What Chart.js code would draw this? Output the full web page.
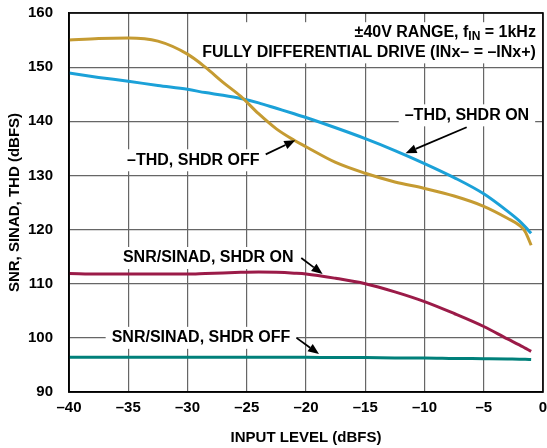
<!DOCTYPE html>
<html>
<head>
<meta charset="utf-8">
<script src="https://cdn.jsdelivr.net/npm/chart.js@4/dist/chart.umd.min.js"></script>
<style>
  html, body { margin: 0; padding: 0; background: #fff; }
</style>
</head>
<body>
<canvas id="myChart" width="547" height="448"></canvas>
<script>
// input level, dBFS
const inputLevel = [-40, -37.5, -35, -32.5, -30, -28.5, -27, -25.5, -24, -22.5, -21, -20,
  -17.5, -15, -12.5, -10, -7.5, -5, -3, -2, -1.5, -1];

const thdShdrOff = [155.0, 155.3, 155.4, 154.8, 152.4, 150.0, 147.2, 144.6, 141.4, 138.6, 136.5, 135.3,
  132.4, 130.4, 128.8, 127.6, 126.2, 124.3, 122.1, 120.8, 119.6, 117.1];
const thdShdrOn = [148.9, 148.1, 147.4, 146.6, 145.9, 145.3, 144.8, 144.2, 143.4, 142.4, 141.4, 140.7,
  138.8, 136.8, 134.6, 132.2, 129.6, 126.6, 123.4, 121.6, 120.5, 119.3];
const snrShdrOn = [111.9, 111.8, 111.8, 111.8, 111.8, 111.9, 112.0, 112.1, 112.15, 112.1, 111.95, 111.8,
  111.0, 110.0, 108.5, 106.7, 104.5, 102.1, 99.8, 98.7, 98.1, 97.5];
const snrShdrOff = [96.4, 96.4, 96.4, 96.4, 96.4, 96.4, 96.4, 96.4, 96.4, 96.4, 96.4, 96.4,
  96.35, 96.35, 96.3, 96.3, 96.2, 96.15, 96.1, 96.05, 96.05, 96.0];

// curve labels: text, left edge / middle (data units), arrow tail and head (data units)
const noteText = ['–THD, SHDR OFF', '–THD, SHDR ON', 'SNR/SINAD, SHDR ON', 'SNR/SINAD, SHDR OFF'];
const noteAt = [[-35.1, 132.8], [-11.67, 141.1], [-35.45, 114.75], [-36.4, 100.0]];
const arrowFrom = [[-23.4, 133.9], [-6.44, 138.9], [-20.4, 114.75], [-20.8, 100.0]];
const arrowTo = [[-20.9, 136.5], [-11.6, 134.1], [-18.6, 111.8], [-18.9, 97.0]];

// condition text, top right
const conditionLine1 = ['±40V RANGE, f', 'IN', ' = 1kHz'];
const conditionLine2 = 'FULLY DIFFERENTIAL DRIVE (INx– = –INx+)';

const FONT = '"Liberation Sans", Arial, Helvetica, sans-serif';

function toPoints(ys) {
  return ys.map((y, i) => ({ x: inputLevel[i], y: y }));
}

function series(label, ys, color) {
  return {
    label: label,
    data: toPoints(ys),
    borderColor: color,
    borderWidth: 3,
    pointRadius: 0,
    fill: false,
    cubicInterpolationMode: 'monotone'
  };
}

const notesPlugin = {
  id: 'notes',
  beforeDatasetsDraw(chart) {
    const { ctx, scales: { x, y } } = chart;
    const big = 'bold 16px ' + FONT;
    const small = 'bold 12px ' + FONT;
    ctx.save();
    ctx.font = big;

    // white boxes behind labels (hide grid)
    ctx.fillStyle = '#fff';
    ctx.fillRect(x.getPixelForValue(-28.5), y.getPixelForValue(158.3),
      x.getPixelForValue(0) - x.getPixelForValue(-28.5) - 1, y.getPixelForValue(150.7) - y.getPixelForValue(158.3));
    noteText.forEach((t, i) => {
      const px = x.getPixelForValue(noteAt[i][0]);
      const py = y.getPixelForValue(noteAt[i][1]);
      const w = ctx.measureText(t).width;
      ctx.fillRect(px - 6, py - 11, w + 12, 22);
    });

    ctx.fillStyle = '#000';
    ctx.textBaseline = 'middle';
    ctx.textAlign = 'left';
    noteText.forEach((t, i) => {
      ctx.fillText(t, x.getPixelForValue(noteAt[i][0]), y.getPixelForValue(noteAt[i][1]));
    });

    // first condition line with subscript
    const right = x.getPixelForValue(-0.6);
    const y1 = y.getPixelForValue(156.4);
    const wa = ctx.measureText(conditionLine1[0]).width;
    const wc = ctx.measureText(conditionLine1[2]).width;
    ctx.font = small;
    const wb = ctx.measureText(conditionLine1[1]).width;
    let cx = right - wa - wb - wc;
    ctx.font = big;
    ctx.fillText(conditionLine1[0], cx, y1);
    cx += wa;
    ctx.font = small;
    ctx.fillText(conditionLine1[1], cx, y1 + 4);
    cx += wb;
    ctx.font = big;
    ctx.fillText(conditionLine1[2], cx, y1);

    ctx.textAlign = 'right';
    ctx.fillText(conditionLine2, right, y.getPixelForValue(152.6));
    ctx.restore();
  },
  afterDatasetsDraw(chart) {
    const { ctx, chartArea, scales: { x, y } } = chart;
    ctx.save();
    ctx.strokeStyle = '#000';
    ctx.fillStyle = '#000';
    ctx.lineWidth = 1.8;
    arrowFrom.forEach((a, i) => {
      const x0 = x.getPixelForValue(a[0]);
      const y0 = y.getPixelForValue(a[1]);
      const x1 = x.getPixelForValue(arrowTo[i][0]);
      const y1 = y.getPixelForValue(arrowTo[i][1]);
      const ang = Math.atan2(y1 - y0, x1 - x0);
      const len = 11;
      const half = 4.5;
      const bx = x1 - len * Math.cos(ang);
      const by = y1 - len * Math.sin(ang);
      ctx.beginPath();
      ctx.moveTo(x0, y0);
      ctx.lineTo(bx, by);
      ctx.stroke();
      ctx.beginPath();
      ctx.moveTo(x1, y1);
      ctx.lineTo(bx + half * Math.sin(ang), by - half * Math.cos(ang));
      ctx.lineTo(bx - half * Math.sin(ang), by + half * Math.cos(ang));
      ctx.closePath();
      ctx.fill();
    });

    // frame around the plot
    ctx.lineWidth = 1.6;
    ctx.strokeRect(chartArea.left, chartArea.top, chartArea.right - chartArea.left, chartArea.bottom - chartArea.top);
    ctx.restore();
  }
};

const tickFont = { family: FONT, size: 15, weight: 'bold' };
const dash = v => (v < 0 ? '–' + Math.abs(v) : String(v));

const ctx = document.getElementById('myChart');
const myChart = new Chart(ctx, {
  type: 'line',
  data: {
    datasets: [
      series('-THD, SHDR OFF', thdShdrOff, '#C59B32'),
      series('-THD, SHDR ON', thdShdrOn, '#1BA1D8'),
      series('SNR/SINAD, SHDR ON', snrShdrOn, '#9B1B48'),
      series('SNR/SINAD, SHDR OFF', snrShdrOff, '#00807A')
    ]
  },
  options: {
    responsive: false,
    animation: false,
    events: [],
    layout: { padding: { top: 13, right: 4, left: 0, bottom: 0 } },
    plugins: { legend: { display: false }, tooltip: { enabled: false } },
    scales: {
      x: {
        type: 'linear',
        min: -40,
        max: 0,
        ticks: { stepSize: 5, color: '#000', font: tickFont, padding: 7, callback: dash, maxRotation: 0 },
        grid: { color: '#666', lineWidth: 1.2, drawTicks: false },
        border: { color: '#000', width: 1.6 },
        title: { display: true, text: 'INPUT LEVEL (dBFS)', color: '#000', font: tickFont, padding: { top: 0, bottom: 1 } },
        afterFit(scale) {
          scale.height = 56;
          scale.paddingLeft = 0;
          scale.paddingRight = 0;
        }
      },
      y: {
        min: 90,
        max: 160,
        ticks: { stepSize: 10, color: '#000', font: tickFont, padding: 16 },
        grid: { color: '#666', lineWidth: 1.2, drawTicks: false },
        border: { color: '#000', width: 1.6 },
        title: { display: true, text: 'SNR, SINAD, THD (dBFS)', color: '#000', font: tickFont, padding: { top: 6, bottom: 0 } },
        afterFit(scale) {
          scale.width = 69;
          scale.paddingTop = 0;
          scale.paddingBottom = 0;
        }
      }
    }
  },
  plugins: [notesPlugin]
});
</script>
</body>
</html>
